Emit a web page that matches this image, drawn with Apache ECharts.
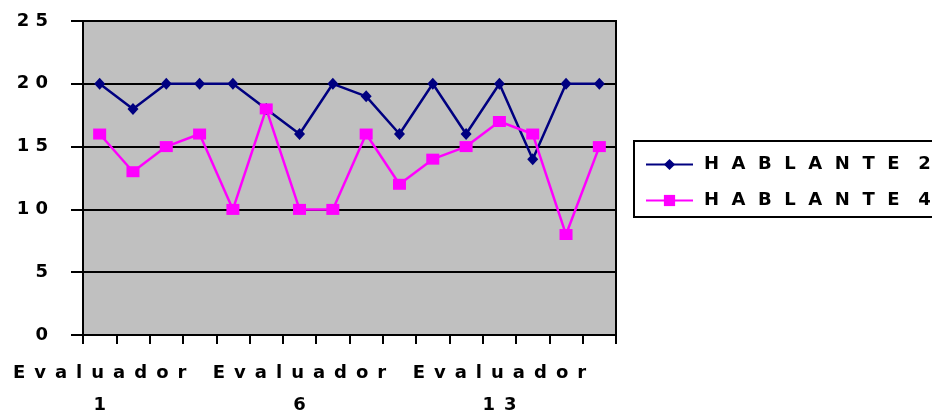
<!DOCTYPE html>
<html>
<head>
<meta charset="utf-8">
<script src="https://cdn.jsdelivr.net/npm/echarts@6/dist/echarts.min.js"></script>
<style>
html,body{margin:0;padding:0;background:#fff;}
#chart{width:932px;height:412px;}
</style>
</head>
<body>
<div id="chart"></div>
<script>
var categories = ['Evaluador 1','Evaluador 2','Evaluador 3','Evaluador 4','Evaluador 5','Evaluador 5b','Evaluador 6','Evaluador 7','Evaluador 8','Evaluador 9','Evaluador 10','Evaluador 11','Evaluador 13','Evaluador 14','Evaluador 15','Evaluador 16'];
var shownCategoryIndexes = [0, 6, 12];
var hablante2 = [20, 18, 20, 20, 20, 18, 16, 20, 19, 16, 20, 16, 20, 14, 20, 20];
var hablante4 = [16, 13, 15, 16, 10, 18, 10, 10, 16, 12, 14, 15, 17, 16, 8, 15];
var seriesNames = ['HABLANTE 2', 'HABLANTE 4'];
var yTicks = [0, 5, 10, 15, 20, 25];

function spaced(s, gap) {
  return s.split('').filter(function(c){return c !== ' ';}).join(gap);
}
function spacedWords(s, gap, wordGap) {
  return s.split(' ').map(function(w){return spaced(w, gap);}).join(wordGap);
}

var FONT = 'DejaVu Sans';
var FS = 18;
var chart = echarts.init(document.getElementById('chart'));
chart.setOption({
  backgroundColor: '#ffffff',
  animation: false,
  grid: {
    left: 83, right: 316, top: 21, bottom: 77,
    outerBoundsMode: 'none',
    containLabel: false,
    show: true, backgroundColor: '#C0C0C0', borderColor: '#000', borderWidth: 2
  },
  legend: {
    orient: 'vertical',
    left: 634, top: 141,
    padding: [13, 12, 6, 11],
    itemGap: 15,
    itemWidth: 47,
    itemHeight: 14,
    backgroundColor: '#fff',
    borderColor: '#000',
    borderWidth: 2,
    borderRadius: 0,
    textStyle: { fontFamily: FONT, fontWeight: 'bold', fontSize: FS, color: '#000', lineHeight: 21, padding: [0, 0, 0, 6] },
    formatter: function(name){ return spacedWords(name, '  ', '   '); },
    data: seriesNames
  },
  xAxis: {
    type: 'category',
    data: categories,
    boundaryGap: true,
    axisLine: { show: true, lineStyle: { color: '#000', width: 2 } },
    axisTick: { show: true, interval: 0, length: 9, lineStyle: { color: '#000', width: 2 } },
    axisLabel: {
      interval: function(idx){ return shownCategoryIndexes.indexOf(idx) >= 0; },
      margin: 22,
      lineHeight: 32,
      fontFamily: FONT, fontWeight: 'bold', fontSize: FS, color: '#000',
      formatter: function(v){
        var parts = v.split(' ');
        return spaced(parts[0], '\u2002') + '\n' + spaced(parts[1].replace('b',''), '\u2002');
      }
    },
    splitLine: { show: false }
  },
  yAxis: {
    type: 'value',
    min: yTicks[0], max: yTicks[yTicks.length-1], interval: 5,
    axisLine: { show: true, lineStyle: { color: '#000', width: 2 } },
    axisTick: { show: true, length: 12, lineStyle: { color: '#000', width: 2 } },
    axisLabel: {
      margin: 35,
      fontFamily: FONT, fontWeight: 'bold', fontSize: FS, color: '#000',
      formatter: function(v){ return spaced(String(v), ' '); }
    },
    splitLine: { show: true, lineStyle: { color: '#000', width: 2 } }
  },
  series: [
    {
      name: seriesNames[0], type: 'line', data: hablante2,
      symbol: 'diamond', symbolSize: [11, 12],
      itemStyle: { color: '#000080' },
      lineStyle: { color: '#000080', width: 2.5 }
    },
    {
      name: seriesNames[1], type: 'line', data: hablante4,
      symbol: 'rect', symbolSize: [13, 11],
      itemStyle: { color: '#FF00FF' },
      lineStyle: { color: '#FF00FF', width: 2.5 }
    }
  ]
});
</script>
</body>
</html>
